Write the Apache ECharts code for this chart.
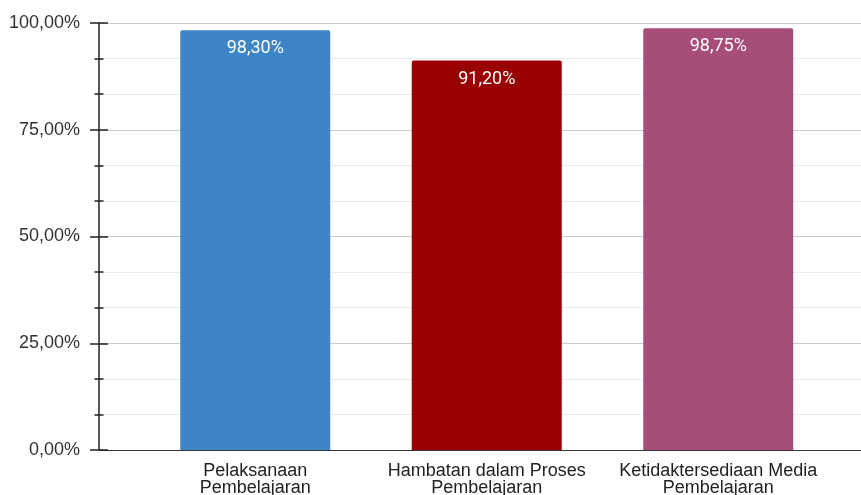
<!DOCTYPE html>
<html><head><meta charset="utf-8">
<script src="https://cdn.jsdelivr.net/npm/echarts@6/dist/echarts.min.js"></script>
<style>html,body{margin:0;padding:0;background:#fff}#c{width:861px;height:495px}</style>
</head><body><div id="c"></div>
<script>
var categories = ["Pelaksanaan\nPembelajaran", "Hambatan dalam Proses\nPembelajaran", "Ketidaktersediaan Media\nPembelajaran"];
var values = [98.30, 91.20, 98.75];
var barColors = ["#3d85c6", "#990000", "#a64d79"];
var yMin = 0, yMax = 100, yInterval = 25;

function pct(v){ return v.toFixed(2).replace('.', ',') + '%'; }

var axisFont = 'Liberation Sans, Arial, sans-serif';
var tickColor = '#222';
var chart = echarts.init(document.getElementById('c'), null, {renderer:'canvas'});
chart.setOption({
  animation: false,
  grid: [
    {left: 99, right: 0, top: 23, bottom: 45, outerBoundsMode: 'none', containLabel: false},
    {left: 139.5, right: 27, top: 23, bottom: 45, outerBoundsMode: 'none', containLabel: false}
  ],
  xAxis: [
    {gridIndex: 0, type: 'value', min: 0, max: 1,
     axisLine: {show: true, onZero: false, lineStyle: {color: '#333', width: 1}},
     axisTick: {show: false}, axisLabel: {show: false}, splitLine: {show: false}},
    {gridIndex: 1, type: 'category', data: categories,
     axisLine: {show: false}, axisTick: {show: false},
     axisLabel: {margin: 13, fontFamily: axisFont, fontSize: 18,
                 color: '#222', lineHeight: 17, interval: 0}}
  ],
  yAxis: [
    {gridIndex: 0, type: 'value', min: yMin, max: yMax, interval: yInterval, position: 'left',
     axisLine: {show: true, lineStyle: {color: tickColor, width: 1.5}},
     axisTick: {show: true, length: 9, lineStyle: {color: tickColor, width: 1.5}},
     minorTick: {show: true, splitNumber: 3, length: 4.5, lineStyle: {color: tickColor, width: 1.5}},
     axisLabel: {margin: 19, formatter: function(v){return pct(v);},
                 fontFamily: axisFont, fontSize: 18, color: '#333'},
     splitLine: {show: true, lineStyle: {color: '#cccccc', width: 1}},
     minorSplitLine: {show: true, lineStyle: {color: '#ebebeb', width: 1}}},
    {gridIndex: 0, type: 'value', min: yMin, max: yMax, interval: yInterval, position: 'right', offset: -762,
     axisLine: {show: false},
     axisTick: {show: true, length: 9, lineStyle: {color: tickColor, width: 1.5}},
     minorTick: {show: true, splitNumber: 3, length: 4.5, lineStyle: {color: tickColor, width: 1.5}},
     axisLabel: {show: false}, splitLine: {show: false}, minorSplitLine: {show: false}},
    {gridIndex: 1, type: 'value', min: yMin, max: yMax, show: false}
  ],
  series: [{
    type: 'bar', xAxisIndex: 1, yAxisIndex: 2,
    data: values.map(function(v, i){ return {value: v, itemStyle: {color: barColors[i]}}; }),
    barWidth: 150,
    itemStyle: {borderRadius: [2, 2, 0, 0]},
    label: {show: true, position: 'insideTop', distance: 9.5,
            formatter: function(p){ return pct(p.value); },
            color: '#fff', fontFamily: 'Roboto, sans-serif', fontSize: 18}
  }]
});
</script></body></html>
